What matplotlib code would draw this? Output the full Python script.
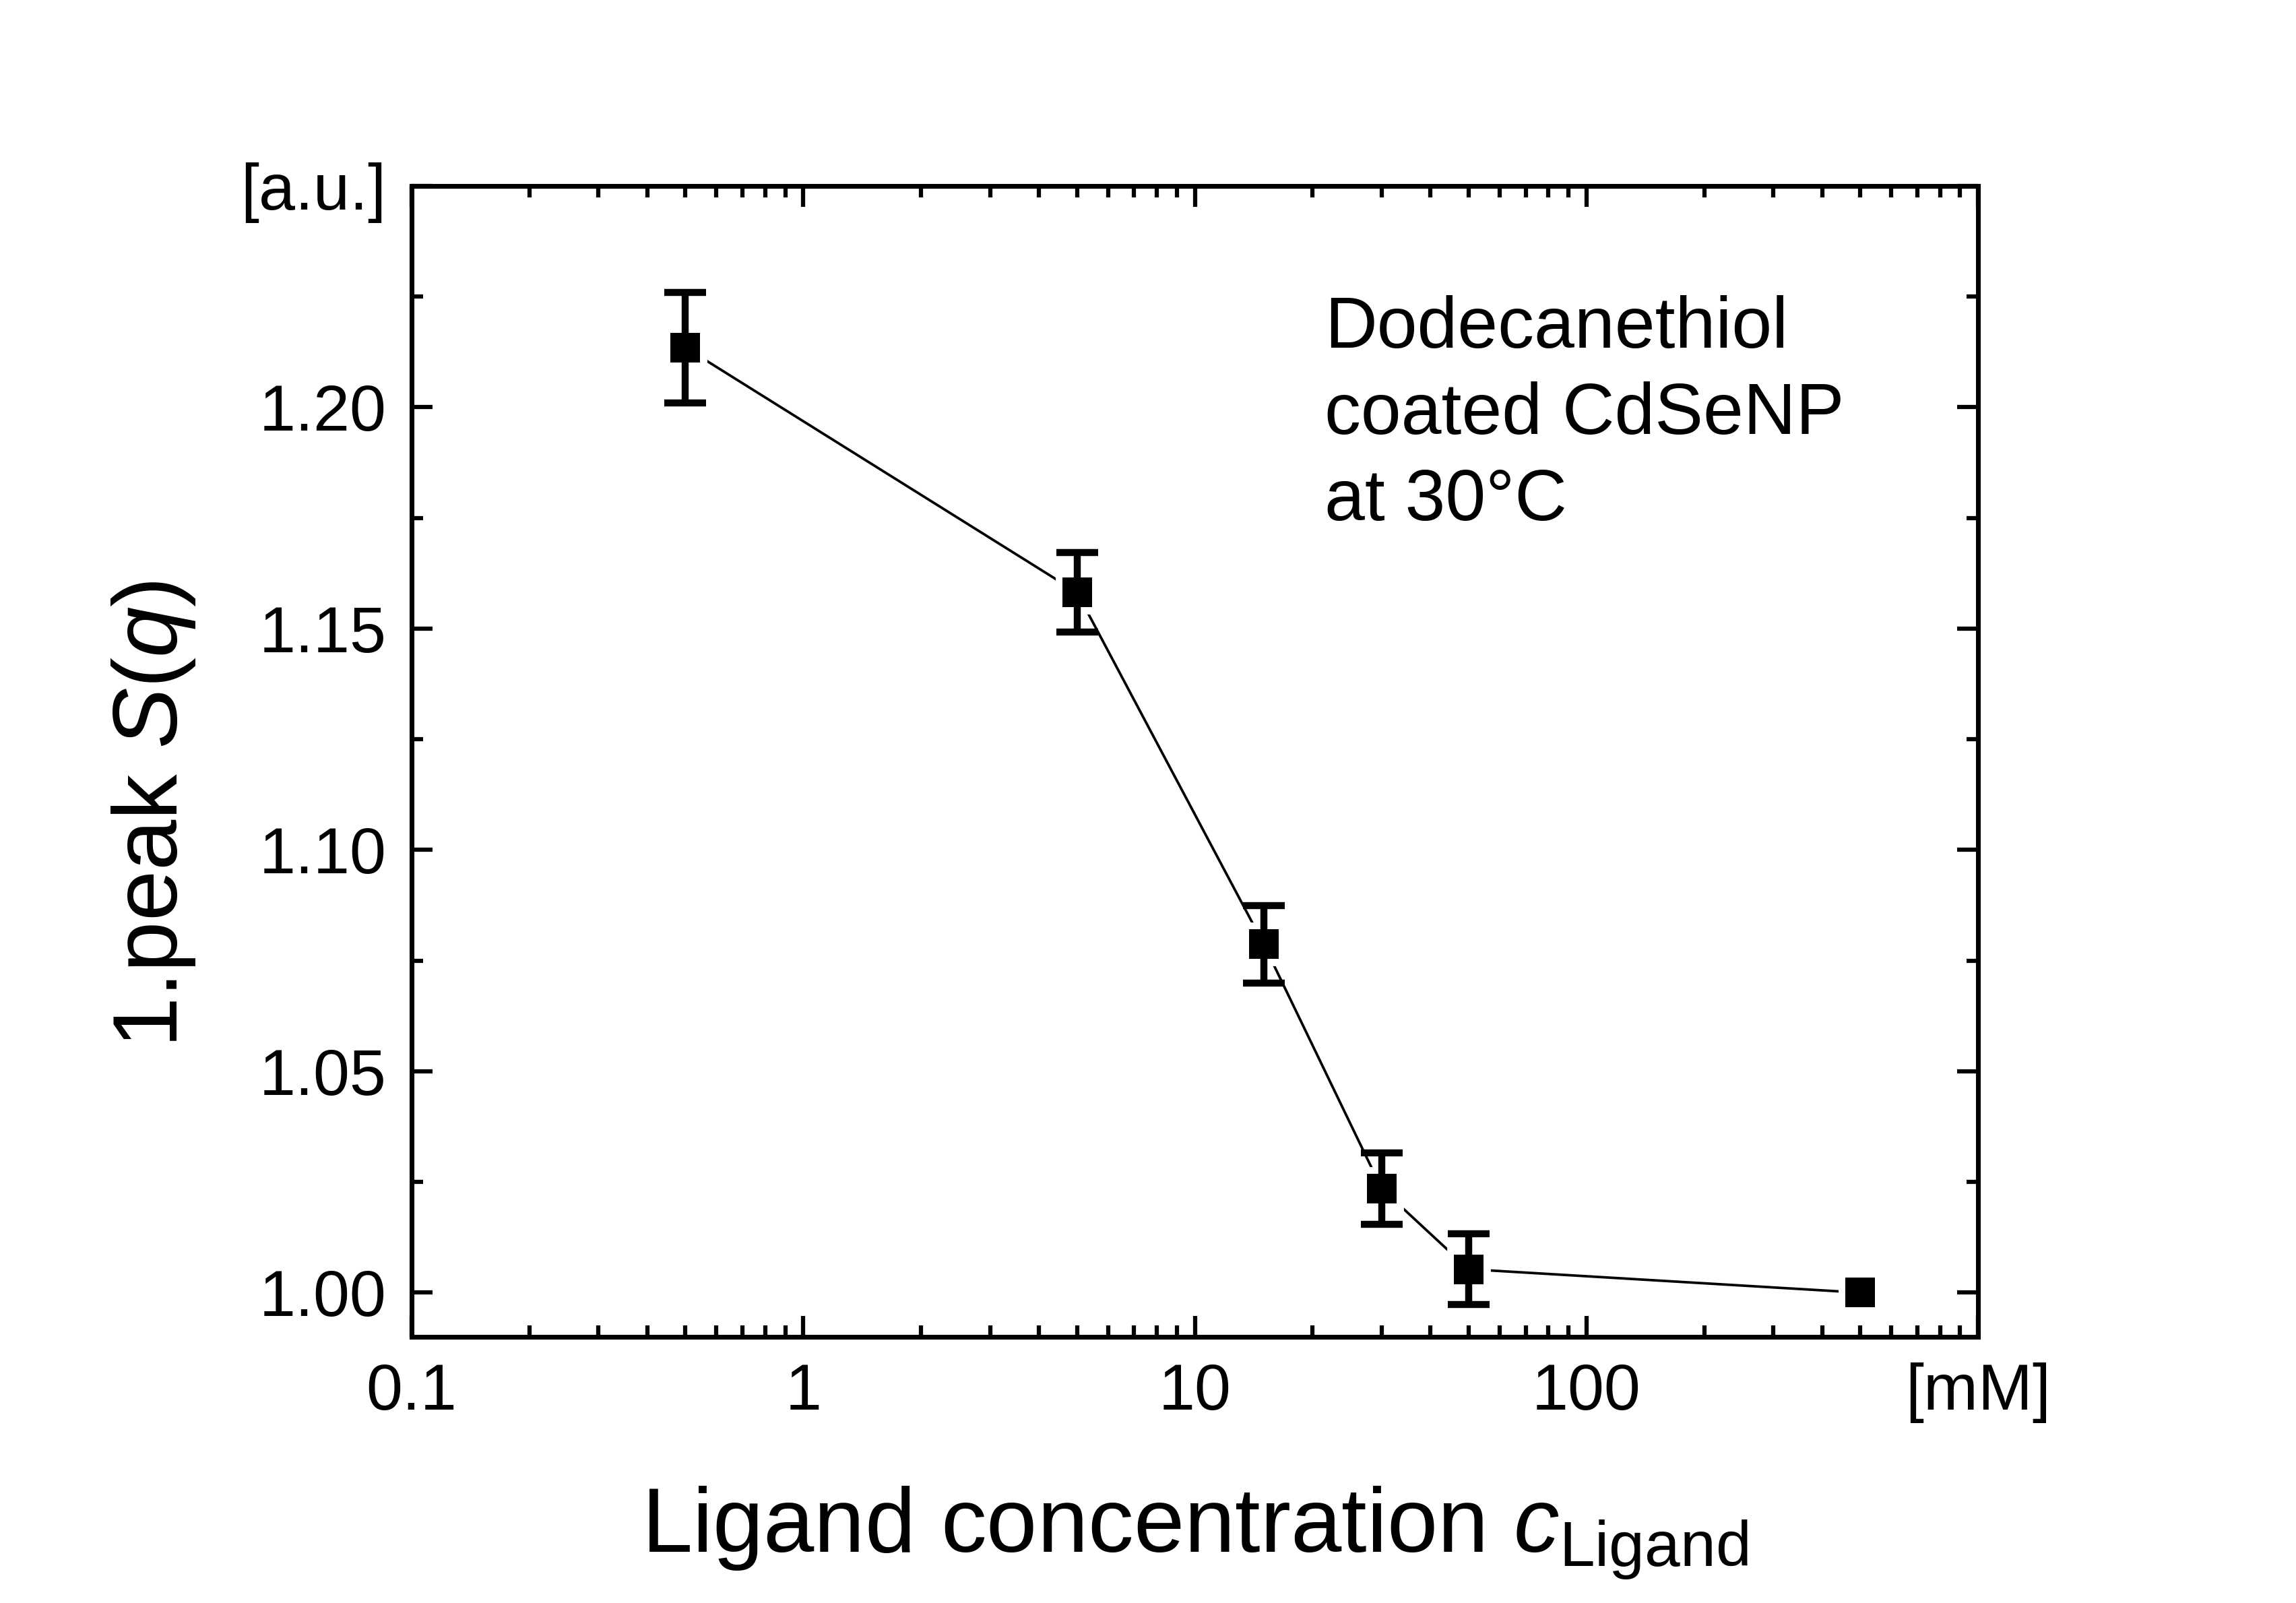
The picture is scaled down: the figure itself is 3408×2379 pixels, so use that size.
import matplotlib
matplotlib.use("Agg")
import matplotlib.pyplot as plt
from matplotlib.ticker import FixedLocator, FixedFormatter, LogLocator, MultipleLocator

plt.rcParams['font.family'] = ['Liberation Sans', 'DejaVu Sans']
plt.rcParams['mathtext.fontset'] = 'custom'
plt.rcParams['mathtext.rm'] = 'Liberation Sans'
plt.rcParams['mathtext.it'] = 'Liberation Sans:italic'

# data
conc = [0.5, 5, 15, 30, 50, 500]          # mM
peak = [1.2135, 1.1582, 1.0787, 1.0235, 1.0053, 1.0000]
err = [0.0125, 0.0090, 0.0088, 0.0080, 0.0080, 0.0]

x_ticks = [0.1, 1, 10, 100, 1000]
x_labels = ['0.1', '1', '10', '100', '[mM]']
y_ticks = [1.00, 1.05, 1.10, 1.15, 1.20, 1.25]
y_labels = ['1.00', '1.05', '1.10', '1.15', '1.20', '[a.u.]']

fig = plt.figure(figsize=(11.36, 7.93), dpi=300)
ax = fig.add_axes([0.1793, 0.166, 0.6822, 0.718])

ax.plot(conc, peak, '-', color='black', lw=0.9, zorder=1)
# white halo to leave a gap between line and symbols
ax.plot(conc, peak, 's', ms=10.4, mfc='white', mec='white', mew=5, zorder=2)
has_err = [i for i, e in enumerate(err) if e > 0]
ax.errorbar([conc[i] for i in has_err], [peak[i] for i in has_err],
            yerr=[err[i] for i in has_err], fmt='none', ecolor='black',
            elinewidth=2.5, capsize=7.5, capthick=2.5, zorder=3)
ax.plot(conc, peak, 's', ms=10.4, color='black', mew=0, zorder=4)

ax.set_xscale('log')
ax.set_xlim(0.1, 1000)
ax.set_ylim(0.99, 1.25)

ax.xaxis.set_major_locator(FixedLocator(x_ticks))
ax.xaxis.set_major_formatter(FixedFormatter(x_labels))
ax.xaxis.set_minor_locator(LogLocator(base=10, subs=range(2, 10)))
ax.xaxis.set_minor_formatter(FixedFormatter([]))
ax.yaxis.set_major_locator(FixedLocator(y_ticks))
ax.yaxis.set_major_formatter(FixedFormatter(y_labels))
ax.yaxis.set_minor_locator(MultipleLocator(0.025))

ax.tick_params(which='both', direction='in', top=True, right=True, width=1.5)
ax.tick_params(which='major', length=7.5, labelsize=23.3, pad=9)
ax.tick_params(which='minor', length=4)
for s in ax.spines.values():
    s.set_linewidth(1.7)

ax.set_ylabel(r'1.peak $\mathit{S(q)}$', fontsize=32.5)
ax.yaxis.set_label_coords(-0.137, 0.454)
ax.set_xlabel(r'Ligand concentration $c_{\mathrm{Ligand}}$', fontsize=32.5)
ax.xaxis.set_label_coords(0.5, -0.128)

ax.text(0.583, 0.905, 'Dodecanethiol\ncoated CdSeNP\nat 30°C', transform=ax.transAxes,
        ha='left', va='top', fontsize=25.8, linespacing=1.36)

fig.savefig('out.png', dpi=300)
